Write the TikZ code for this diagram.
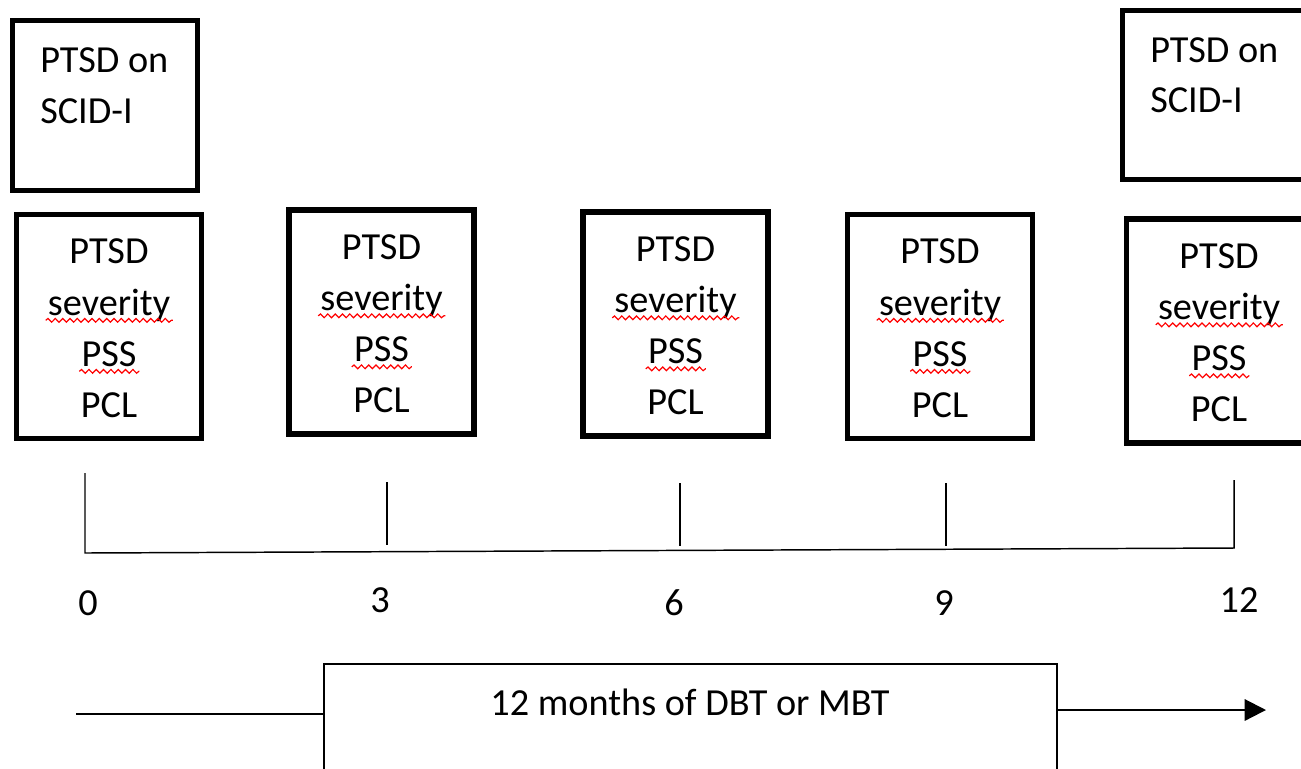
\documentclass[tikz,border=0pt]{standalone}
\usepackage{fontspec}
\setmainfont{Carlito}
\usetikzlibrary{arrows.meta,decorations.pathmorphing}
\begin{document}
\begin{tikzpicture}[x=0.75pt,y=-0.75pt,
  box/.style={draw,line width=4pt,rectangle,inner sep=0pt},
  mbox/.style={box,minimum width=138.75pt,minimum height=168pt},
  tbox/.style={box,minimum width=138.75pt,minimum height=127.5pt},
  txt/.style={inner sep=0pt,font=\fontsize{28.7}{34}\selectfont,anchor=base},
  ltxt/.style={txt,anchor=base west},
  squig/.style={draw=red,line width=0.9pt,decorate,decoration={snake,segment length=5.5pt,amplitude=1.4pt}},
  axis/.style={line width=1.1pt},
  flow/.style={line width=1.6pt}]
\useasboundingbox (0,0) rectangle (1301,768);
\clip (0,0) rectangle (1301,768);
\fill[white] (0,0) rectangle (1301,768);
% top boxes
\node[tbox] (top1) at (105,105.5) {};
\node[ltxt] (top1a) at (40,72) {PTSD on};
\node[ltxt] (top1b) at (40,123) {SCID-I};
\node[box,minimum width=138.75pt,minimum height=126.75pt] (top2) at (1215,95) {};
\node[ltxt] (top2a) at (1150,62) {PTSD on};
\node[ltxt] (top2b) at (1150,112) {SCID-I};
% measurement boxes
\foreach \n/\cx/\cy in {1/109/326.5, 2/381.5/322, 3/675.5/324, 4/940/326.5, 5/1219/331} {
  \node[mbox] (m\n) at (\cx,\cy) {};
  \node[txt] (m\n-a) at (\cx,\cy-63) {PTSD};
  \node[txt] (m\n-b) at (\cx,\cy-11.5) {severity};
  \node[txt] (m\n-c) at (\cx,\cy+39.5) {PSS};
  \node[txt] (m\n-d) at (\cx,\cy+90.5) {PCL};
  \draw[squig] ([xshift=-1.5pt,yshift=-4pt]m\n-b.base west) -- ([xshift=2pt,yshift=-4pt]m\n-b.base east);
  \draw[squig] ([xshift=-1.5pt,yshift=-4pt]m\n-c.base west) -- ([xshift=2pt,yshift=-4pt]m\n-c.base east);
}
% timeline
\coordinate (t0top) at (85,473);
\coordinate (t0bot) at (85,553);
\coordinate (t3top) at (387,482);
\coordinate (t3bot) at (387,545);
\coordinate (t6top) at (680,483);
\coordinate (t6bot) at (680,546);
\coordinate (t9top) at (946,483);
\coordinate (t9bot) at (946,546);
\coordinate (t12top) at (1234,480);
\coordinate (t12bot) at (1234,548);
\draw[axis] (t0top) -- (t0bot) -- (t12bot) -- (t12top);
\draw[axis] (t3top) -- (t3bot);
\draw[axis] (t6top) -- (t6bot);
\draw[axis] (t9top) -- (t9bot);
\node[txt] (n0) at (88,615) {0};
\node[txt] (n3) at (380,612) {3};
\node[txt] (n6) at (674,615) {6};
\node[txt] (n9) at (944,615) {9};
\node[txt] (n12) at (1239,612) {12};
% therapy
\node[draw,line width=1.5pt,minimum width=549.75pt,minimum height=124.5pt,inner sep=0pt] (therapy) at (690,747) {};
\node[txt] (therapytxt) at (690,715) {12 months of DBT or MBT};
\coordinate (lstart) at (76,714);
\coordinate (rend) at (1266,710);
\draw[flow] (lstart) -- (lstart -| therapy.west);
\draw[flow,-{Triangle[length=16pt,width=16pt]}] (rend -| therapy.east) -- (rend);
\end{tikzpicture}
\end{document}
